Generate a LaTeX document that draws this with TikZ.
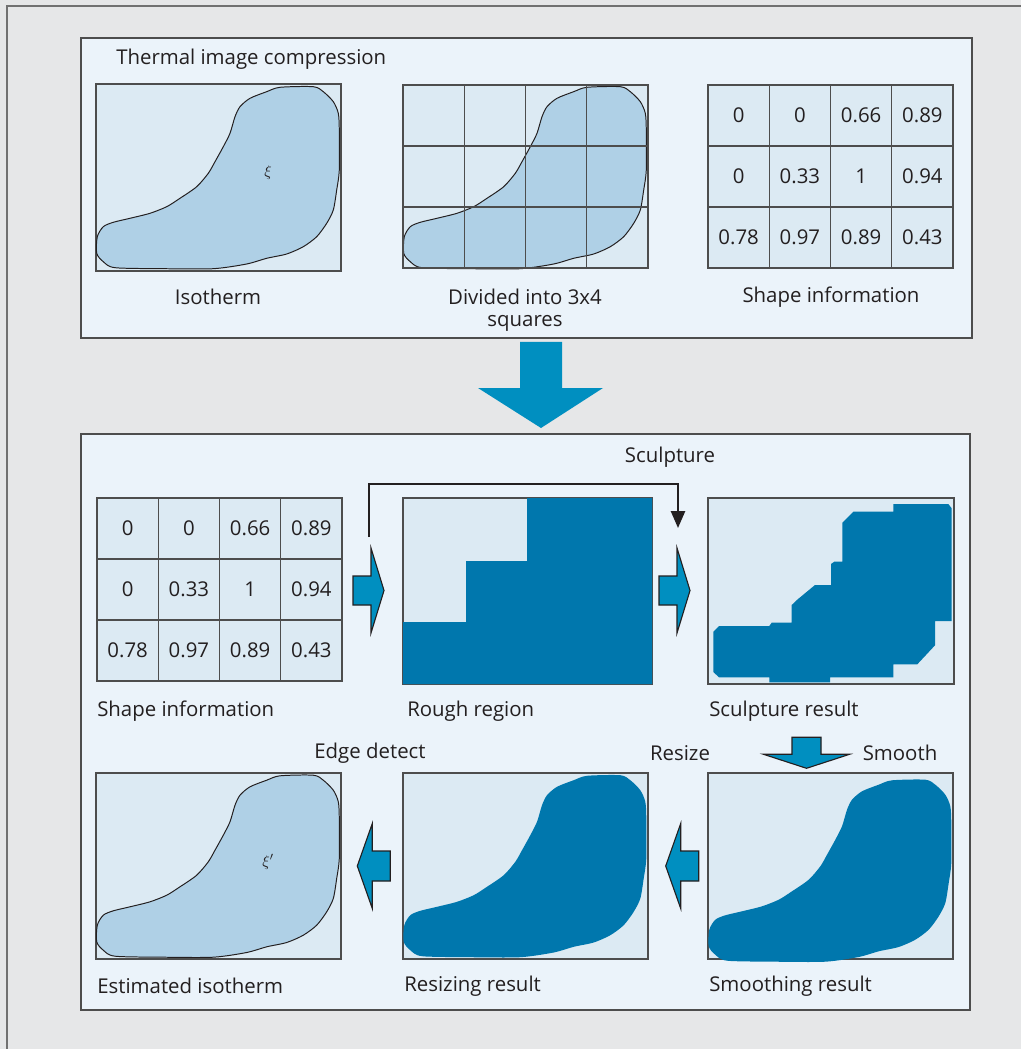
\documentclass[tikz,border=0pt]{standalone}
\usepackage{fontspec}
\setmainfont{Open Sans}
\usetikzlibrary{positioning,arrows.meta}
\definecolor{bgc}{HTML}{E6E7E8}
\definecolor{panelc}{HTML}{EBF3FA}
\definecolor{boxc}{HTML}{DCEAF3}
\definecolor{isoc}{HTML}{AFD0E6}
\definecolor{deepc}{HTML}{0077AD}
\definecolor{arrowc}{HTML}{008FC0}
\definecolor{edgec}{HTML}{4D4D4D}
\definecolor{inkc}{HTML}{231F20}
\tikzset{
  lbl/.style={text=inkc,inner sep=0pt,font=\fontsize{14.5}{15.6}\selectfont},
  panel/.style={fill=panelc,draw=edgec,line width=1.1pt},
  imgbox/.style={fill=boxc,draw=edgec,line width=1pt},
  cellbox/.style={draw=edgec,fill=boxc,line width=0.8pt,minimum width=1.531cm,
    minimum height=1.525cm,inner sep=0pt,text=inkc,font=\fontsize{14.5}{17}\selectfont},
  blockarrow/.style={fill=arrowc,draw=inkc,line width=0.8pt,line join=miter},
  sculptline/.style={draw=inkc,line width=1.5pt,-{Triangle[width=10pt,length=12pt]}},
  greek/.style={text=inkc,inner sep=0pt,font=\fontsize{11}{12}\selectfont},
  rblock/.pic={\filldraw[blockarrow] (0,-14.5) -- (18,-14.5) -- (18,-42.5) -- (31,0)
    -- (18,42.5) -- (18,14.5) -- (0,14.5) -- cycle;},
  lblock/.pic={\filldraw[blockarrow] (0,0) -- (15,-42.5) -- (15,-15) -- (33,-15)
    -- (33,15) -- (15,15) -- (15,42.5) -- cycle;},
  dblock/.pic={\filldraw[blockarrow] (-14.5,0) -- (-14.5,17) -- (-43,17) -- (0,31)
    -- (43,17) -- (14.5,17) -- (14.5,0) -- cycle;},
}
% isotherm outline, relative to the top left corner of its box
\newcommand{\isoblob}[1]{%
  \path[#1] plot[smooth cycle,tension=0.45] coordinates {
    (184,3.3) (217.3,2.7) (227.3,7.7) (237.3,17.7) (242.3,29.3) (243.3,46)
    (243.3,86) (240.7,106) (237.3,126) (230.7,139.3) (220.7,152.7) (207.3,162.7)
    (190.7,170) (170.7,174.3) (150.7,180) (117.3,184.7) (67.3,184.7) (19,183.7)
    (7.3,177.7) (0.7,169.3) (1.3,152.7) (7.3,142.7) (17.3,138.3) (34,134.3)
    (54,129.3) (70.7,122.7) (84,114.3) (100.7,102.7) (112.3,89.3) (119,77.7)
    (127.3,62.7) (134,49.3) (139,32.7) (144,22.7) (154,14.3) (170.7,7.7)};
}
\newcommand{\shapetable}[3]{%
  \foreach \val [count=\k from 0] in {0,0,0.66,0.89,0,0.33,1,0.94,0.78,0.97,0.89,0.43} {
    \pgfmathtruncatemacro{\c}{mod(\k,4)}
    \pgfmathtruncatemacro{\r}{div(\k,4)}
    \node[cellbox] (#1-\c-\r) at ({#2+(\c+0.5)*61.25},{#3+(\r+0.5)*61}) {\val};
  }
}

\begin{document}
\begin{tikzpicture}[x=0.025cm,y=-0.025cm]
  \useasboundingbox (0,0) rectangle (1021,1049);
  \fill[bgc] (0,0) rectangle (1021,1049);
  \draw[edgec!80,line width=1.4pt] (7,1049) -- (7,6) -- (1021,6);

  % compression panel
  \draw[panel] (81,38) rectangle (972,338);
  \node[lbl,anchor=west] (ttl) at (116,59) {Thermal image compression};
  \draw[imgbox] (96,84) rectangle (341,271);
  \begin{scope}[shift={(96,84)}]
    \isoblob{fill=isoc,draw=inkc,line width=0.7pt}
  \end{scope}
  \node[greek] (xi) at (268,173) {$\mathrm{\xi}$};
  \node[lbl] (lbiso) at (218,297) {Isotherm};

  \draw[imgbox] (403,85) rectangle (648,268);
  \begin{scope}[shift={(403,84)}]
    \isoblob{fill=isoc,draw=inkc,line width=0.7pt}
  \end{scope}
  \foreach \i in {1,2,3} { \draw[edgec,line width=1pt] ({403+\i*61.25},85) -- ({403+\i*61.25},268); }
  \foreach \i in {1,2} { \draw[edgec,line width=1pt] (403,{85+\i*61}) -- (648,{85+\i*61}); }
  \draw[edgec,line width=1pt] (403,85) rectangle (648,268);
  \node[lbl,align=center,anchor=north] (lbdiv) at (525,289) {Divided into 3x4\\squares};

  \shapetable{ta}{708}{85}
  \node[lbl] (lbshpa) at (831,297) {Shape information};

  % big arrow
  \fill[arrowc] (520,342) -- (562,342) -- (562,388) -- (603,388) -- (541,428)
    -- (478,388) -- (520,388) -- cycle;

  % reconstruction panel
  \draw[panel] (81,434) rectangle (970,1010);
  \node[lbl] (lbsc) at (670,457) {Sculpture};

  \shapetable{tb}{97}{498}
  \node[lbl,anchor=west] (lbshpb) at (97,711) {Shape information};

  \pic at (353,590.5) {rblock};
  \draw[imgbox] (403,498) rectangle (652,684);
  \fill[deepc] (527,498) -- (652,498) -- (652,684) -- (403,684) -- (403,622)
    -- (466,622) -- (466,561) -- (527,561) -- cycle;
  \node[lbl,anchor=west] (lbrough) at (407,711) {Rough region};

  \pic at (659,590.5) {rblock};
  \draw[imgbox] (708,498) rectangle (954,684);
  \fill[deepc] (713.3,631.7) -- (719,626) -- (769.3,626) -- (771.7,622.7) -- (791.7,622.7)
    -- (791.7,605) -- (797.7,599.3) -- (815,585) -- (831,585) -- (831,564) -- (834.3,561.7)
    -- (842.3,561.7) -- (842.3,522.7) -- (853.3,511.7) -- (893.3,511.7) -- (893.3,504)
    -- (948.3,504) -- (951.7,508.3) -- (951.7,621) -- (935,621) -- (935,645.3)
    -- (917.3,664.3) -- (893.3,664.3) -- (893.3,677.3) -- (830,677.3) -- (830,682.3)
    -- (769.3,682.3) -- (769.3,677.3) -- (719,677.3) -- (713.3,672) -- cycle;
  \node[lbl,anchor=west] (lbscres) at (709,711) {Sculpture result};

  \coordinate (scA) at (369,537);
  \coordinate (scTop) at (369,484);
  \coordinate (scB) at (678,528);
  \draw[sculptline] (scA) -- (scTop) -| (scB);

  \node[lbl] (lbedge) at (370,753) {Edge detect};
  \node[lbl] (lbresize) at (680,753) {Resize};
  \node[lbl] (lbsmooth) at (900,753) {Smooth};
  \pic at (806.5,737.3) {dblock};

  % bottom row
  \draw[imgbox] (96,773) rectangle (341,959);
  \begin{scope}[shift={(96,772.5)}]
    \isoblob{fill=isoc,draw=inkc,line width=0.7pt}
  \end{scope}
  \node[greek] (xib) at (268,862) {$\mathrm{\xi}'$};
  \node[lbl,anchor=west] (lbest) at (97,986) {Estimated isotherm};

  \pic at (357.3,866) {lblock};
  \draw[imgbox] (403,773) rectangle (648,959);
  \begin{scope}[shift={(403,772.5)}]
    \isoblob{fill=deepc}
  \end{scope}
  \node[lbl,anchor=west] (lbresz) at (404,986) {Resizing result};

  \pic at (665.7,866) {lblock};
  \draw[imgbox] (708,773) rectangle (953,959);
  \begin{scope}[shift={(708,777)}]
    \isoblob{fill=deepc}
  \end{scope}
  \node[lbl,anchor=west] (lbsmres) at (709,986) {Smoothing result};
\end{tikzpicture}
\end{document}
